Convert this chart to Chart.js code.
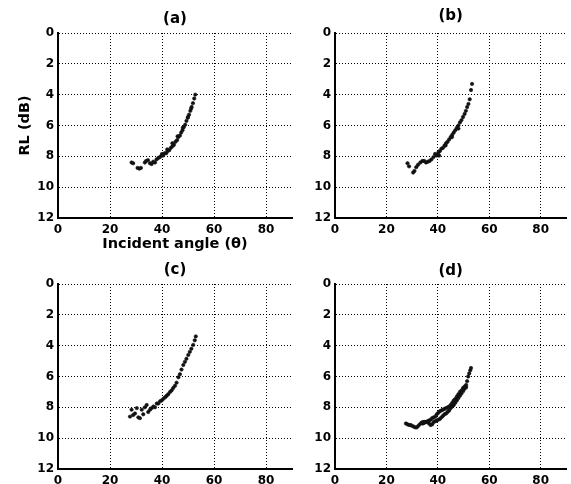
<!DOCTYPE html>
<html>
<head>
<meta charset="utf-8">
<script src="https://cdn.jsdelivr.net/npm/chart.js@4/dist/chart.umd.min.js"></script>
<style>
  html, body { margin: 0; padding: 0; background: #fff; }
  #wrap { position: relative; width: 571px; height: 484px; }
  #wrap canvas { position: absolute; left: 0; top: 0; }
</style>
</head>
<body>
<div id="wrap">
  <canvas id="pa" width="571" height="484"></canvas>
  <canvas id="pb" width="571" height="484"></canvas>
  <canvas id="pc" width="571" height="484"></canvas>
  <canvas id="pd" width="571" height="484"></canvas>
</div>
<script>
// Tick values shared by every panel
const angleTicks = [0, 20, 40, 60, 80];
const rlTicks = [0, 2, 4, 6, 8, 10, 12];

// Panel (a): return loss (dB) against incident angle (deg)
const angleA = [28.3, 28.9, 30.6, 31.3, 31.9, 33.4, 33.9, 34.6, 35.4, 36.0, 36.6, 37.3, 37.9, 38.6, 39.2, 39.8,
  40.4, 41.0, 41.6, 42.2, 42.8, 43.4, 44.0, 44.6, 45.2, 45.8, 46.3, 46.9, 47.4, 47.9, 48.4, 48.9, 49.4, 49.9,
  50.4, 50.9, 51.4, 51.9, 52.4, 52.8, 40.0, 42.0, 44.0, 46.0, 48.0, 50.0, 51.2];
const rlA = [8.4, 8.45, 8.75, 8.8, 8.75, 8.4, 8.3, 8.25, 8.45, 8.5, 8.35, 8.4, 8.2, 8.1, 8.05, 7.95,
  7.95, 7.8, 7.8, 7.65, 7.6, 7.45, 7.35, 7.25, 7.05, 6.95, 6.75, 6.65, 6.45, 6.3, 6.1, 5.95, 5.7, 5.5,
  5.3, 5.05, 4.8, 4.55, 4.25, 4.0, 7.85, 7.55, 7.15, 6.7, 6.15, 5.45, 4.9];

// Panel (b)
const angleB = [28.2, 28.8, 30.4, 30.9, 31.6, 32.3, 33.2, 34.0, 34.7, 35.4, 36.1, 36.8, 37.5, 38.3, 38.9, 39.6,
  40.2, 40.8, 41.4, 42.0, 42.6, 43.2, 43.8, 44.4, 45.0, 45.6, 46.2, 46.8, 47.4, 48.0, 48.6, 49.2, 49.8,
  50.4, 50.9, 51.4, 51.9, 52.4, 52.9, 53.3, 40.5, 43.0, 45.5, 48.0];
const rlB = [8.45, 8.65, 9.05, 8.95, 8.7, 8.55, 8.4, 8.3, 8.3, 8.4, 8.35, 8.3, 8.2, 8.05, 7.85, 7.95,
  7.75, 7.65, 7.5, 7.45, 7.3, 7.15, 7.05, 6.9, 6.75, 6.6, 6.45, 6.3, 6.15, 6.0, 5.8, 5.65, 5.45,
  5.25, 5.05, 4.8, 4.6, 4.3, 3.7, 3.3, 7.95, 7.3, 6.75, 6.2];

// Panel (c)
const angleC = [27.7, 28.3, 28.9, 29.6, 30.3, 30.9, 31.5, 32.2, 32.8, 33.4, 34.1, 34.7, 35.4, 36.0, 36.7, 37.3,
  38.0, 38.6, 39.3, 39.9, 40.5, 41.2, 41.8, 42.4, 43.1, 43.7, 44.3, 45.0, 45.6, 46.3, 46.9, 47.5, 48.2,
  48.8, 49.4, 50.1, 50.7, 51.3, 52.0, 52.6, 53.0];
const rlC = [8.6, 8.15, 8.5, 8.4, 8.05, 8.65, 8.7, 8.15, 8.45, 8.0, 7.85, 8.3, 8.15, 8.05, 7.95, 8.0,
  7.75, 7.75, 7.6, 7.55, 7.45, 7.35, 7.25, 7.15, 7.0, 6.9, 6.75, 6.6, 6.4, 6.05, 5.85, 5.55, 5.25,
  5.05, 4.85, 4.6, 4.4, 4.2, 3.95, 3.65, 3.4];

// Panel (d): two closely spaced branches
const angleD1 = [27.6, 28.2, 28.8, 29.4, 30.0, 30.6, 31.2, 31.8, 32.4, 33.0, 33.6, 34.2, 34.8, 35.4, 36.0, 36.6,
  37.2, 37.8, 38.4, 39.0, 39.6, 40.2, 40.8, 41.4, 42.0, 42.6, 43.2, 43.8, 44.4, 45.0, 45.6, 46.2, 46.8,
  47.4, 48.0, 48.6, 49.2, 49.8, 50.4, 51.0];
const rlD1 = [9.05, 9.1, 9.15, 9.15, 9.2, 9.25, 9.3, 9.3, 9.2, 9.1, 9.0, 8.95, 8.95, 8.95, 8.95, 9.05,
  9.15, 9.1, 8.95, 8.9, 8.85, 8.8, 8.75, 8.65, 8.55, 8.45, 8.4, 8.3, 8.2, 8.05, 7.95, 7.85, 7.7,
  7.55, 7.4, 7.25, 7.1, 6.95, 6.8, 6.7];
const angleD2 = [34.2, 34.8, 35.4, 36.0, 36.6, 37.2, 37.8, 38.4, 39.0, 39.6, 40.2, 40.8, 41.4, 42.0, 42.6, 43.2,
  43.8, 44.4, 45.0, 45.6, 46.2, 46.8, 47.4, 48.0, 48.6, 49.2, 49.8, 50.4, 51.0, 51.4, 51.8, 52.2, 52.6, 52.9];
const rlD2 = [9.05, 9.0, 8.95, 8.9, 8.85, 8.8, 8.7, 8.65, 8.6, 8.45, 8.35, 8.25, 8.2, 8.15, 8.1, 8.05,
  8.0, 7.95, 7.85, 7.7, 7.55, 7.45, 7.3, 7.15, 7.0, 6.9, 6.75, 6.65, 6.55, 6.3, 6.0, 5.8, 5.6, 5.45];

const CW = 571, CH = 484;
const FONT = '"DejaVu Sans", "Liberation Sans", Arial, sans-serif';
const TITLE_SIZE = 15, AXIS_TITLE_SIZE = 14.5, TICK_SIZE = 12;

function pts(xs, ys) { return xs.map((x, i) => ({ x: x, y: ys[i] })); }

function panel(canvasId, label, series, box, titleY, withAxisTitles) {
  const [left, top, right, bottom] = box;
  const titleLH = TITLE_SIZE * 1.2;
  const axisLH = AXIS_TITLE_SIZE * 1.2;
  const xAxisH = withAxisTitles ? 42 : Math.min(42, CH - bottom);
  const padBottom = CH - bottom - xAxisH;
  new Chart(document.getElementById(canvasId), {
    type: 'scatter',
    data: {
      datasets: series.map(s => ({
        data: pts(s[0], s[1]),
        pointRadius: 1.7,
        pointBackgroundColor: '#111',
        pointBorderColor: '#111',
        pointBorderWidth: 0.6,
        showLine: false
      }))
    },
    options: {
      responsive: false,
      animation: false,
      events: [],
      layout: { padding: { left: 0, top: 0, right: CW - right, bottom: padBottom } },
      plugins: {
        legend: { display: false },
        tooltip: { enabled: false },
        title: {
          display: true,
          text: label,
          fullSize: false,
          color: '#000',
          font: { family: FONT, size: TITLE_SIZE, weight: 'bold', lineHeight: 1.2 },
          padding: { top: titleY - titleLH / 2, bottom: top - titleY - titleLH / 2 }
        }
      },
      scales: {
        x: {
          type: 'linear',
          min: 0, max: 90,
          afterBuildTicks: s => { s.ticks = angleTicks.map(v => ({ value: v })); },
          afterFit: s => { s.height = xAxisH; },
          ticks: { color: '#000', padding: 5, maxRotation: 0,
            font: { family: FONT, size: TICK_SIZE, weight: 'bold' } },
          grid: { color: '#000', lineWidth: 1, drawTicks: false },
          border: { display: true, color: '#000', width: 2, dash: [1, 2] },
          title: {
            display: withAxisTitles,
            text: 'Incident angle (\u03b8)',
            color: '#000',
            font: { family: FONT, size: AXIS_TITLE_SIZE, weight: 'bold', lineHeight: 1.2 },
            padding: { top: 0, bottom: 16 - axisLH / 2 }
          }
        },
        y: {
          type: 'linear',
          reverse: true,
          min: 0, max: 12,
          afterBuildTicks: s => { s.ticks = rlTicks.map(v => ({ value: v })); },
          afterFit: s => { s.width = left; },
          ticks: { color: '#000', padding: 4,
            font: { family: FONT, size: TICK_SIZE, weight: 'bold' } },
          grid: { color: '#000', lineWidth: 1, drawTicks: false },
          border: { display: true, color: '#000', width: 2, dash: [1, 2] },
          title: {
            display: withAxisTitles,
            text: 'RL (dB)',
            color: '#000',
            font: { family: FONT, size: AXIS_TITLE_SIZE, weight: 'bold', lineHeight: 1.2 },
            padding: { top: 25.5 - axisLH / 2, bottom: 0 }
          }
        }
      }
    }
  });
}

panel('pa', '(a)', [[angleA, rlA]], [58, 33, 292, 218], 19.5, true);
panel('pb', '(b)', [[angleB, rlB]], [335, 33, 569, 218], 16, false);
panel('pc', '(c)', [[angleC, rlC]], [58, 284, 292, 469], 270.5, false);
panel('pd', '(d)', [[angleD1, rlD1], [angleD2, rlD2]], [335, 284, 569, 469], 271, false);
</script>
</body>
</html>
